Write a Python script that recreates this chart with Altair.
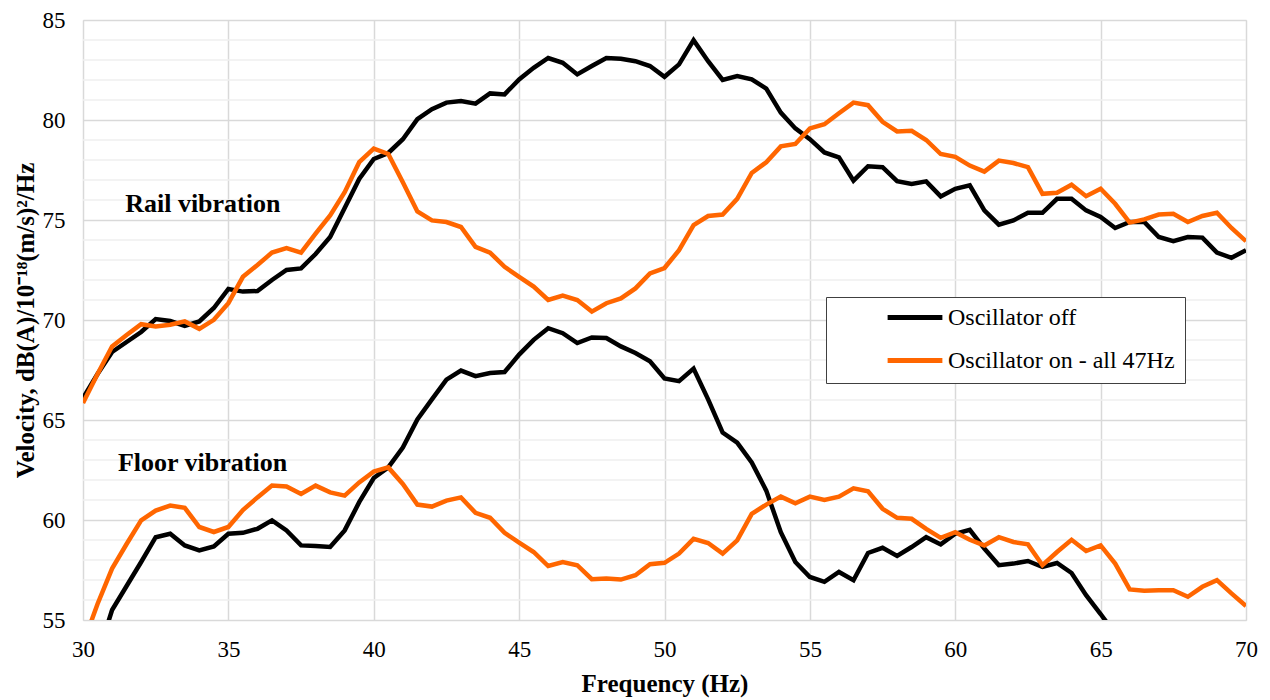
import altair as alt
import pandas as pd

freq = [30 + 0.5 * i for i in range(81)]

rail_off = [66.1, 67.3, 68.4, 68.9, 69.4, 70.05, 69.95, 69.7, 69.93, 70.6,
            71.55, 71.42, 71.45, 72.0, 72.5, 72.58, 73.3, 74.15, 75.6, 77.05,
            78.05, 78.35, 79.04, 80.04, 80.54, 80.87, 80.95, 80.82, 81.33, 81.28,
            82.03, 82.61, 83.1, 82.86, 82.28, 82.7, 83.1, 83.06, 82.94, 82.7,
            82.16, 82.78, 83.99, 82.94, 82.0, 82.2, 82.03, 81.57, 80.37, 79.58,
            79.04, 78.38, 78.13, 76.97, 77.69, 77.64, 76.94, 76.8, 76.93, 76.18,
            76.56, 76.73, 75.48, 74.77, 74.98, 75.36, 75.36, 76.06, 76.06, 75.48,
            75.15, 74.6, 74.9, 74.9, 74.15, 73.94, 74.15, 74.12, 73.37, 73.11,
            73.49]

rail_on = [65.85, 67.3, 68.68, 69.25, 69.79, 69.68, 69.76, 69.93, 69.56, 70.01,
           70.84, 72.16, 72.75, 73.37, 73.6, 73.37, 74.32, 75.23, 76.39, 77.89,
           78.57, 78.3, 76.89, 75.43, 74.98, 74.9, 74.65, 73.66, 73.37, 72.66,
           72.16, 71.67, 71.0, 71.22, 71.0, 70.42, 70.84, 71.08, 71.58, 72.33,
           72.6, 73.49, 74.74, 75.2, 75.27, 76.06, 77.35, 77.89, 78.68, 78.8,
           79.58, 79.79, 80.34, 80.87, 80.74, 79.91, 79.43, 79.46, 79.0, 78.3,
           78.16, 77.72, 77.42, 77.97, 77.85, 77.64, 76.31, 76.36, 76.76, 76.19,
           76.56, 75.81, 74.87, 75.03, 75.27, 75.31, 74.9, 75.2, 75.36, 74.6,
           73.94]

floor_off = [51.5, 53.2, 55.5, 56.7, 57.9, 59.14, 59.31, 58.73, 58.48, 58.68,
             59.31, 59.36, 59.56, 59.98, 59.48, 58.73, 58.7, 58.65, 59.48, 60.89,
             62.1, 62.63, 63.62, 65.03, 66.03, 67.02, 67.47, 67.19, 67.35, 67.4,
             68.27, 69.01, 69.59, 69.34, 68.85, 69.13, 69.1, 68.68, 68.35, 67.94,
             67.08, 66.94, 67.57, 66.03, 64.37, 63.87, 62.88, 61.47, 59.39, 57.9,
             57.15, 56.91, 57.4, 56.99, 58.35, 58.61, 58.2, 58.65, 59.14, 58.78,
             59.31, 59.51, 58.57, 57.74, 57.82, 57.95, 57.65, 57.85, 57.35, 56.24,
             55.3, 54.3]

floor_on = [53.8, 55.8, 57.57, 58.8, 59.98, 60.47, 60.72, 60.61, 59.65, 59.4,
            59.65, 60.5, 61.13, 61.72, 61.68, 61.3, 61.72, 61.38, 61.22, 61.88,
            62.42, 62.63, 61.8, 60.77, 60.67, 60.97, 61.13, 60.36, 60.11, 59.36,
            58.87, 58.4, 57.7, 57.9, 57.74, 57.04, 57.07, 57.02, 57.24, 57.79,
            57.86, 58.32, 59.06, 58.85, 58.32, 58.98, 60.31, 60.77, 61.17, 60.84,
            61.17, 61.0, 61.17, 61.58, 61.43, 60.56, 60.11, 60.06, 59.56, 59.11,
            59.39, 59.01, 58.73, 59.14, 58.9, 58.78, 57.74, 58.4, 59.01, 58.45,
            58.73, 57.82, 56.53, 56.46, 56.49, 56.49, 56.16, 56.66, 56.99, 56.33,
            55.7]

series_names = ["Oscillator off", "Oscillator on - all 47Hz"]
series_colors = ["#000000", "#FF6600"]

minor_ticks = [56, 57, 58, 59, 61, 62, 63, 64, 66, 67, 68, 69, 71, 72, 73, 74,
               76, 77, 78, 79, 81, 82, 83, 84]
major_y = [55, 60, 65, 70, 75, 80, 85]
major_x = [30, 35, 40, 45, 50, 55, 60, 65, 70]

ann_text = ["Rail vibration", "Floor vibration"]
ann_x = [31.45, 31.2]
ann_y = [75.8, 62.85]

rows = []
for loc, off, on in [("Rail", rail_off, rail_on), ("Floor", floor_off, floor_on)]:
    for f, v in zip(freq, off):
        rows.append({"freq": f, "value": v, "series": series_names[0], "loc": loc})
    for f, v in zip(freq, on):
        rows.append({"freq": f, "value": v, "series": series_names[1], "loc": loc})
df = pd.DataFrame(rows)

FONT = "Liberation Serif"

xscale = alt.Scale(domain=[30, 70], nice=False, zero=False)
yscale = alt.Scale(domain=[55, 85], nice=False, zero=False)

x_axis = alt.Axis(title="Frequency (Hz)", values=major_x, format="d",
                  grid=True, gridColor="#d9d9d9", gridWidth=1.5,
                  domain=False, ticks=False, labelFlush=False,
                  labelFont=FONT, labelFontSize=23, labelColor="#000000",
                  labelPadding=18, titleFont=FONT, titleFontSize=25,
                  titleFontWeight="bold", titleColor="#000000",
                  titlePadding=10)
y_axis = alt.Axis(title="Velocity, dB(A)/10⁻¹⁸(m/s)²/Hz", values=major_y,
                  grid=True, gridColor="#d9d9d9", gridWidth=1.5,
                  domain=False, ticks=False, labelFlush=False,
                  labelFont=FONT, labelFontSize=23, labelColor="#000000",
                  labelPadding=18, titleFont=FONT, titleFontSize=25,
                  titleFontWeight="bold", titleColor="#000000",
                  titlePadding=4)

minor = alt.Chart(pd.DataFrame({"y": minor_ticks})).mark_rule(
    color="#efefef", strokeWidth=1.5
).encode(y=alt.Y("y:Q", scale=yscale, axis=y_axis))

lines = alt.Chart(df).mark_line(strokeWidth=4.5, clip=True).encode(
    x=alt.X("freq:Q", scale=xscale, axis=x_axis),
    y=alt.Y("value:Q", scale=yscale, axis=y_axis),
    color=alt.Color("series:N",
                    scale=alt.Scale(domain=series_names, range=series_colors),
                    legend=alt.Legend(title=None, orient="none", legendX=743,
                                      legendY=277, symbolType="stroke",
                                      symbolSize=3000, symbolStrokeWidth=5,
                                      labelFont=FONT, labelFontSize=24,
                                      labelColor="#000000", padding=10,
                                      symbolOffset=49, labelOffset=3,
                                      clipHeight=21, rowPadding=18,
                                      strokeColor="#404040",
                                      fillColor="#ffffff", labelLimit=400)),
    detail="loc:N",
)

ann = alt.Chart(pd.DataFrame({"t": ann_text, "x": ann_x, "y": ann_y})).mark_text(
    align="left", baseline="middle", font=FONT, fontSize=26, fontWeight="bold",
    color="#000000"
).encode(x=alt.X("x:Q", scale=xscale), y=alt.Y("y:Q", scale=yscale), text="t:N")

chart = alt.layer(minor, lines, ann).properties(
    width=1163, height=600,
    autosize=alt.AutoSizeParams(type="none"),
    padding={"left": 75, "top": 12, "right": 16, "bottom": 80},
).configure_view(stroke=None).configure(background="#ffffff")

chart.save("out.html", embed_options={"renderer": "svg", "actions": False})
